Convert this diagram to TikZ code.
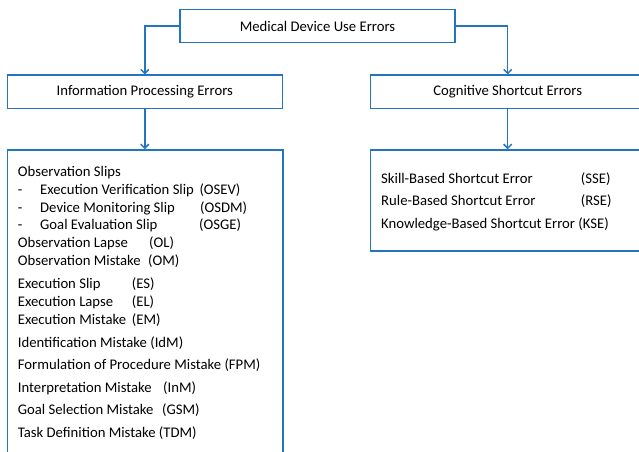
\documentclass[tikz,border=0pt]{standalone}
\usepackage{fontspec}
\setmainfont{Carlito}
\usetikzlibrary{arrows.meta}
\definecolor{lineblue}{RGB}{36,117,192}
\newcommand{\fs}{\fontsize{14.7}{17.7}\selectfont}
\tikzset{
  box/.style={draw=lineblue, line width=1.5pt, rectangle, inner sep=0pt, font=\fs},
  lbl/.style={anchor=base west, inner sep=0pt, font=\fs},
  conn/.style={draw=lineblue, line width=1.5pt, -{Straight Barb[length=4pt,width=8pt]}}
}
\begin{document}
\begin{tikzpicture}[x=1pt,y=-1pt]
\useasboundingbox (0,0) rectangle (639,451);
\clip (0,0) rectangle (639,451);
\fill[white] (0,0) rectangle (639,451);
% boxes
\node[box, minimum width=275pt, minimum height=33.2pt] (top) at (317.5,26.1) {Medical Device Use Errors};
\node[box, minimum width=275pt, minimum height=33.1pt] (info) at (144.8,91.75) {Information Processing Errors};
\node[box, minimum width=274pt, minimum height=33.1pt] (cog) at (507.7,91.75) {Cognitive Shortcut Errors};
\node[box, minimum width=275.7pt, minimum height=320pt] (lbox) at (145.1,310) {};
\node[box, minimum width=274pt, minimum height=101pt] (rbox) at (507.7,200.5) {};
% connectors
\draw[conn] (top.west) -| (info.north);
\draw[conn] (top.east) -| (cog.north);
\draw[conn] (info.south) -- (info.south |- lbox.north);
\draw[conn] (cog.south) -- (cog.south |- rbox.north);
% left list
\node[lbl] (a1) at (17.7,176.5) {Observation Slips};
\node[lbl] (a2d) at (17.7,194.8) {-};
\node[lbl] (a2) at (40,194.8) {Execution Verification Slip};
\node[lbl] (a2x) at (199.3,194.8) {(OSEV)};
\node[lbl] (a3d) at (17.7,212.5) {-};
\node[lbl] (a3) at (40,212.5) {Device Monitoring Slip};
\node[lbl] (a3x) at (200,212.5) {(OSDM)};
\node[lbl] (a4d) at (17.7,229.8) {-};
\node[lbl] (a4) at (40,229.8) {Goal Evaluation Slip};
\node[lbl] (a4x) at (199,229.8) {(OSGE)};
\node[lbl] (a5) at (17.7,247.8) {Observation Lapse};
\node[lbl] (a5x) at (149,247.8) {(OL)};
\node[lbl] (a6) at (17.7,265.5) {Observation Mistake};
\node[lbl] (a6x) at (148,265.5) {(OM)};
\node[lbl] (a7) at (17.7,288.1) {Execution Slip};
\node[lbl] (a7x) at (131.7,288.1) {(ES)};
\node[lbl] (a8) at (17.7,306.5) {Execution Lapse};
\node[lbl] (a8x) at (131.7,306.5) {(EL)};
\node[lbl] (a9) at (17.7,324.1) {Execution Mistake};
\node[lbl] (a9x) at (131.7,324.1) {(EM)};
\node[lbl] (a10) at (17.7,347.1) {Identification Mistake (IdM)};
\node[lbl] (a11) at (17.7,369.5) {Formulation of Procedure Mistake (FPM)};
\node[lbl] (a12) at (17.7,392.1) {Interpretation Mistake};
\node[lbl] (a12x) at (163,392.1) {(InM)};
\node[lbl] (a13) at (17.7,414.1) {Goal Selection Mistake};
\node[lbl] (a13x) at (162,414.1) {(GSM)};
\node[lbl] (a14) at (17.7,437.1) {Task Definition Mistake (TDM)};
% right list
\node[lbl] (b1) at (381,183.1) {Skill-Based Shortcut Error};
\node[lbl] (b1x) at (580.7,183.1) {(SSE)};
\node[lbl] (b2) at (381,205.8) {Rule-Based Shortcut Error};
\node[lbl] (b2x) at (580.7,205.8) {(RSE)};
\node[lbl] (b3) at (381,228.1) {Knowledge-Based Shortcut Error (KSE)};
\end{tikzpicture}
\end{document}
